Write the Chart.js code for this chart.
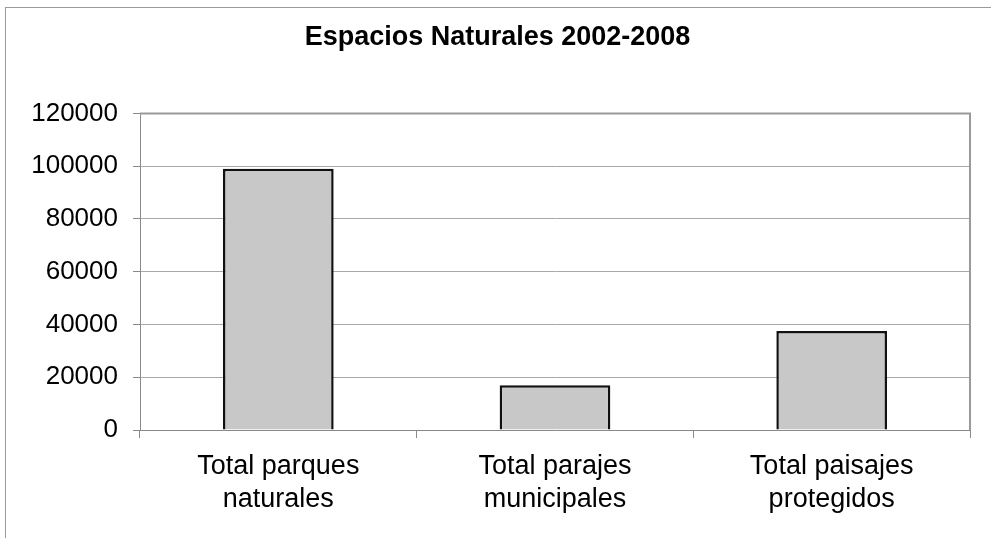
<!DOCTYPE html>
<html>
<head>
<meta charset="utf-8">
<script src="https://cdn.jsdelivr.net/npm/chart.js@4/dist/chart.umd.min.js"></script>
<style>
  html, body { margin: 0; padding: 0; overflow: hidden; background: #fff; }
  #frame { position: absolute; left: 5px; top: 7px; width: 1100px; height: 700px; border: 1px solid #9a9a9a; }
  #grafico { position: absolute; left: 0; top: 0; }
</style>
</head>
<body>
<div id="frame"></div>
<canvas id="grafico" width="991" height="538"></canvas>
<script>
// datos
var categorias = [["Total parques", "naturales"], ["Total parajes", "municipales"], ["Total paisajes", "protegidos"]];
var valores = [99000, 17000, 37500];
var titulo = "Espacios Naturales 2002-2008";

var fuente = "'Liberation Sans', Arial, sans-serif";

// borde superior y derecho del area de trazado
var bordePlot = {
  id: "bordePlot",
  afterDraw: function(chart) {
    var a = chart.chartArea;
    var ctx = chart.ctx;
    ctx.save();
    ctx.strokeStyle = "#9a9a9a";
    ctx.lineWidth = 2;
    ctx.beginPath();
    ctx.moveTo(a.left, a.top);
    ctx.lineTo(a.right, a.top);
    ctx.lineTo(a.right, a.bottom);
    ctx.stroke();
    ctx.restore();
  }
};

new Chart("grafico", {
  type: "bar",
  data: {
    labels: categorias,
    datasets: [{
      data: valores,
      backgroundColor: "#c8c8c8",
      borderColor: "#111",
      borderWidth: 2.5,
      barPercentage: 0.4,
      categoryPercentage: 1
    }]
  },
  options: {
    responsive: false,
    animation: false,
    layout: { padding: { left: 25, right: 21, top: 0, bottom: 0 } },
    plugins: {
      legend: { display: false },
      tooltip: { enabled: false },
      title: {
        display: true,
        text: titulo,
        color: "#000",
        font: { family: fuente, size: 27, weight: "bold", lineHeight: 1.2 },
        padding: { top: 21, bottom: 60 }
      }
    },
    scales: {
      x: {
        grid: { offset: true, drawOnChartArea: false, tickLength: 8, color: "#8a8a8a" },
        border: { color: "#8a8a8a", width: 1 },
        ticks: {
          color: "#000",
          padding: 12,
          maxRotation: 0,
          font: { family: fuente, size: 27, lineHeight: 1.22 }
        },
        afterFit: function(s) { s.height = 108; }
      },
      y: {
        min: 0,
        max: 120000,
        grid: { color: "#a8a8a8", lineWidth: 1, tickLength: 7, tickColor: "#8a8a8a" },
        border: { color: "#8a8a8a", width: 1 },
        ticks: {
          stepSize: 20000,
          color: "#000",
          padding: 15,
          font: { family: fuente, size: 26 },
          callback: function(v) { return String(v); }
        },
        afterFit: function(s) { s.width = 115; }
      }
    }
  },
  plugins: [bordePlot]
});
</script>
</body>
</html>
